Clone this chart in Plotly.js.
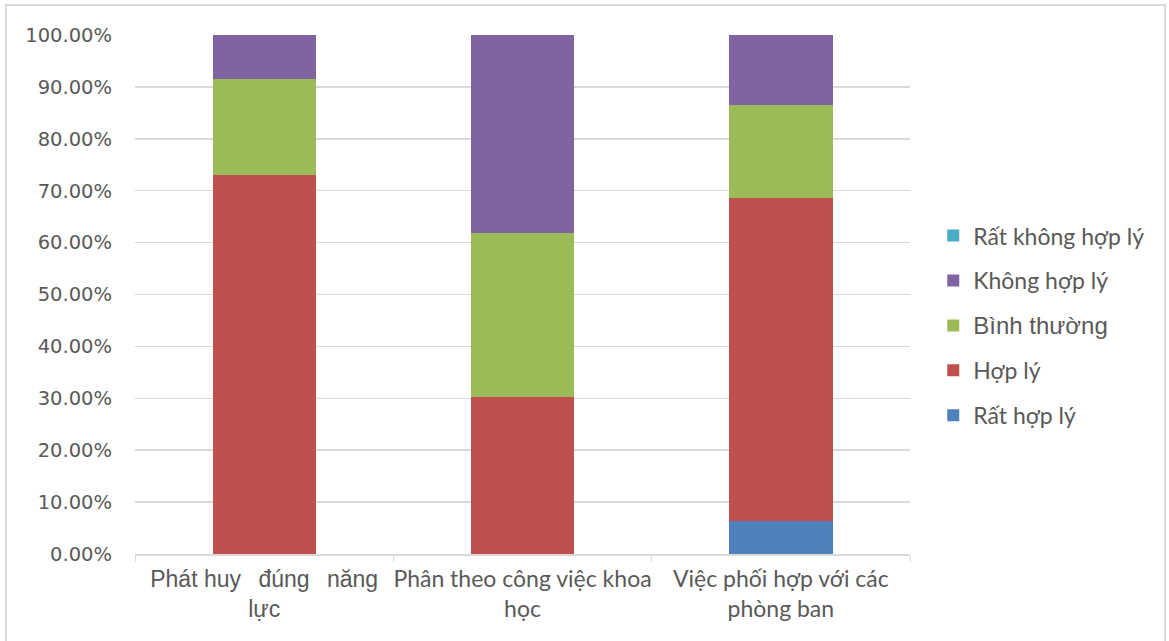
<!DOCTYPE html>
<html>
<head>
<meta charset="utf-8">
<script src="https://cdn.plot.ly/plotly-3.0.1.min.js"></script>
<style>
  html, body { margin: 0; padding: 0; background: #ffffff; }
  #wrap { position: relative; width: 1169px; height: 641px; overflow: hidden; }
  #chart { position: absolute; left: 0; top: 0; width: 1169px; height: 641px; }
  #frame { position: absolute; left: 5px; top: 4px; width: 1157px; height: 660px;
           border: 2px solid #d9d9d9; pointer-events: none; }
</style>
</head>
<body>
<div id="wrap">
  <div id="chart"></div>
  <div id="frame"></div>
</div>
<script>
// Survey categories (x axis)
const categories = [
  "Phát huy đúng năng lực",
  "Phân theo công việc khoa học",
  "Việc phối hợp với các phòng ban"
];
// Tick labels as drawn under each bar
const tickLabels = [
  '<span style="font-family:Liberation Sans, Arial, sans-serif;font-size:23px">Phát huy\u00a0\u2009 đúng\u00a0\u2009 năng</span><br><span style="font-family:Liberation Sans, Arial, sans-serif;font-size:23px">lực</span>',
  'Phân theo công việc khoa<br>học',
  'Việc phối hợp với các<br>phòng ban'
];

// Share of answers per rating (percent)
const ratLyHop      = [0.0, 0.0, 6.3];    // Rất hợp lý
const hopLy         = [73.1, 30.3, 62.3]; // Hợp lý
const binhThuong    = [18.4, 31.6, 18.0]; // Bình thường
const khongHopLy    = [8.5, 38.1, 13.4];  // Không hợp lý
const ratKhongHopLy = [0.0, 0.0, 0.0];    // Rất không hợp lý

const seriesNames = [
  "Rất hợp lý",
  "Hợp lý",
  '<span style="font-family:Liberation Sans, Arial, sans-serif;font-size:24px">Bình thường</span>',
  "Không hợp lý",
  "Rất không hợp lý"
];
const seriesValues = [ratLyHop, hopLy, binhThuong, khongHopLy, ratKhongHopLy];
const seriesColors = ["#4F81BD", "#C0504D", "#9BBB59", "#8064A2", "#4BACC6"];

const traces = seriesValues.map((vals, i) => ({
  type: "bar",
  x: categories,
  y: vals,
  name: seriesNames[i],
  legendgroup: "g" + i,
  legendrank: seriesValues.length - i,
  marker: { color: seriesColors[i], line: { width: 0 } },
  hoverinfo: "skip"
}));

const layout = {
  width: 1169,
  height: 641,
  margin: { l: 135, r: 259, t: 35, b: 87, pad: 0 },
  paper_bgcolor: "#ffffff",
  plot_bgcolor: "#ffffff",
  barmode: "stack",
  bargap: 0.6,
  font: { family: "Lato, sans-serif", size: 23, color: "#595959" },
  xaxis: {
    type: "category",
    tickvals: categories,
    ticktext: tickLabels,
    tickangle: 0,
    tickson: "boundaries",
    ticks: "outside",
    ticklen: 6,
    tickcolor: "#d9d9d9",
    ticklabelstandoff: 4,
    showline: true,
    linecolor: "#d9d9d9",
    linewidth: 1.5,
    showgrid: false,
    tickfont: { family: "Lato, sans-serif", size: 23, color: "#595959" },
    fixedrange: true
  },
  yaxis: {
    range: [0, 100],
    dtick: 10,
    tick0: 0,
    tickformat: ".2f",
    ticksuffix: "%",
    showgrid: true,
    gridcolor: "#d9d9d9",
    gridwidth: 1.5,
    zeroline: false,
    showline: false,
    ticks: "",
    ticklabelstandoff: 22,
    tickfont: { family: "DejaVu Sans, sans-serif", size: 19.5, color: "#595959" },
    fixedrange: true
  },
  legend: {
    x: 1.03,
    xanchor: "left",
    y: 0.44,
    yanchor: "middle",
    traceorder: "grouped",
    tracegroupgap: 12,
    font: { family: "Lato, sans-serif", size: 23, color: "#595959" },
    bgcolor: "rgba(0,0,0,0)"
  },
  showlegend: true
};

Plotly.newPlot("chart", traces, layout, { staticPlot: true, displayModeBar: false });
</script>
</body>
</html>
